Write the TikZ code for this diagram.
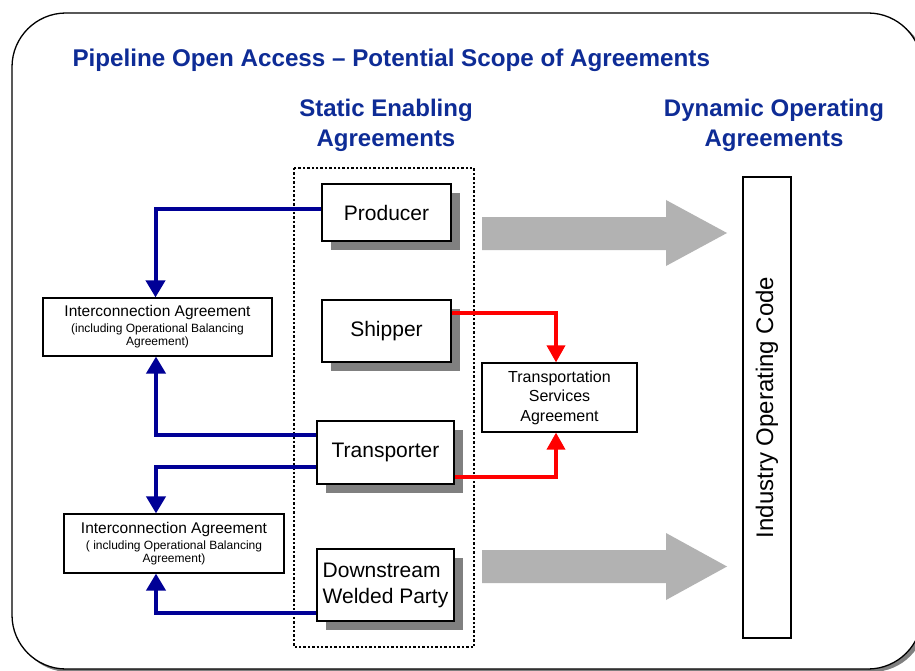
\documentclass[tikz,border=0pt]{standalone}
\usepackage{fontspec}
\setmainfont{Liberation Sans}
\usetikzlibrary{arrows.meta,shadows}
\definecolor{titleblue}{RGB}{14,44,150}
\definecolor{linkblue}{RGB}{0,0,150}
\definecolor{shadowgray}{RGB}{128,128,128}
\definecolor{bigarrow}{RGB}{178,178,178}
\tikzset{
  partybox/.style={draw=black, line width=1.2pt, fill=white, inner sep=2pt,
    font=\fontsize{21}{26}\selectfont,
    general shadow={fill=shadowgray, shadow xshift=9pt, shadow yshift=-9pt}},
  agreebox/.style={draw=black, line width=1.2pt, fill=white, inner sep=2pt, align=center},
  interbox/.style={agreebox, font=\fontsize{12}{13}\selectfont},
  heading/.style={text=titleblue, font=\bfseries\fontsize{24}{30}\selectfont, align=center},
  bluelink/.style={draw=linkblue, line width=4pt,
    -{Triangle[length=17pt,width=19pt]}},
  redlink/.style={draw=red, line width=3.6pt,
    -{Triangle[length=17pt,width=18pt]}},
  flowarrow/.style={fill=bigarrow}
}
\newcommand{\iatitle}{{\fontsize{15.5}{17}\selectfont Interconnection Agreement}}
\begin{document}
\begin{tikzpicture}[x=1pt, y={(0pt,-1pt)}]
\useasboundingbox (0,0) rectangle (915,671);

% outer rounded frame with its shadow
\fill[shadowgray, rounded corners=54pt] (15,16) rectangle (926,672);
\draw[line width=1.3pt, fill=white, rounded corners=54pt] (12,13) rectangle (922,669);

% headings
\node[text=titleblue, font=\bfseries\fontsize{24.2}{30}\selectfont, anchor=base west]
  (title) at (69,67) {Pipeline Open Access – Potential Scope of Agreements};
\node[heading] (static) at (386,125) {Static Enabling\\Agreements};
\node[heading] (dynamic) at (774,125) {Dynamic Operating\\Agreements};

% dotted frame around the static agreements
\draw[line width=2.4pt, dash pattern=on 2.4pt off 2pt] (294,168) rectangle (474,647);

% wide grey flow arrows
\fill[flowarrow] (482,217) -- (666,217) -- (666,200) -- (727,233) -- (666,266) -- (666,250) -- (482,250) -- cycle;
\fill[flowarrow] (482,550) -- (666,550) -- (666,533) -- (727,566.5) -- (666,600) -- (666,583) -- (482,583) -- cycle;

% parties
\node[partybox, minimum width=129pt, minimum height=57pt] (prod) at (386.5,212.5) {Producer};
\node[partybox, minimum width=129pt, minimum height=62pt] (ship) at (386.5,331) {Shipper};
\node[partybox, minimum width=137pt, minimum height=63pt] (trans) at (385.5,452.5) {Transporter};
\node[partybox, minimum width=137pt, minimum height=72pt, align=left] (down) at (385.5,585) {Downstream\\Welded Party};

% agreements
\node[interbox, minimum width=229pt, minimum height=58pt] (ia1) at (157.5,327)
  {\iatitle\\[3pt] (including Operational Balancing\\Agreement)};
\node[interbox, minimum width=220pt, minimum height=59pt] (ia2) at (174,543.5)
  {\iatitle\\[3pt] ( including Operational Balancing\\Agreement)};
\node[agreebox, minimum width=155pt, minimum height=69pt,
  font=\fontsize{16}{19.5}\selectfont] (tsa) at (559.5,397.5)
  {Transportation\\Services\\Agreement};
\node[draw=black, line width=1.2pt, fill=white, rotate=90,
  minimum width=461pt, minimum height=48pt, font=\fontsize{24}{28}\selectfont]
  (ioc) at (767,407.5) {Industry Operating Code};

% interconnection links
\draw[bluelink] ([yshift=3.5pt]prod.west) -| ([xshift=-2pt]ia1.north);
\draw[bluelink] ([yshift=17.5pt]trans.west) -| ([xshift=-1.5pt]ia1.south);
\draw[bluelink] ([yshift=-14.5pt]trans.west) -| ([xshift=-18pt]ia2.north);
\draw[bluelink] ([yshift=-28pt]down.west) -| ([xshift=-18pt]ia2.south);

% transportation services links
\draw[redlink] ([yshift=18pt]ship.east) -| ([xshift=-3.5pt]tsa.north);
\draw[redlink] ([yshift=-24.5pt]trans.east) -| ([xshift=-3.5pt]tsa.south);
\end{tikzpicture}
\end{document}
